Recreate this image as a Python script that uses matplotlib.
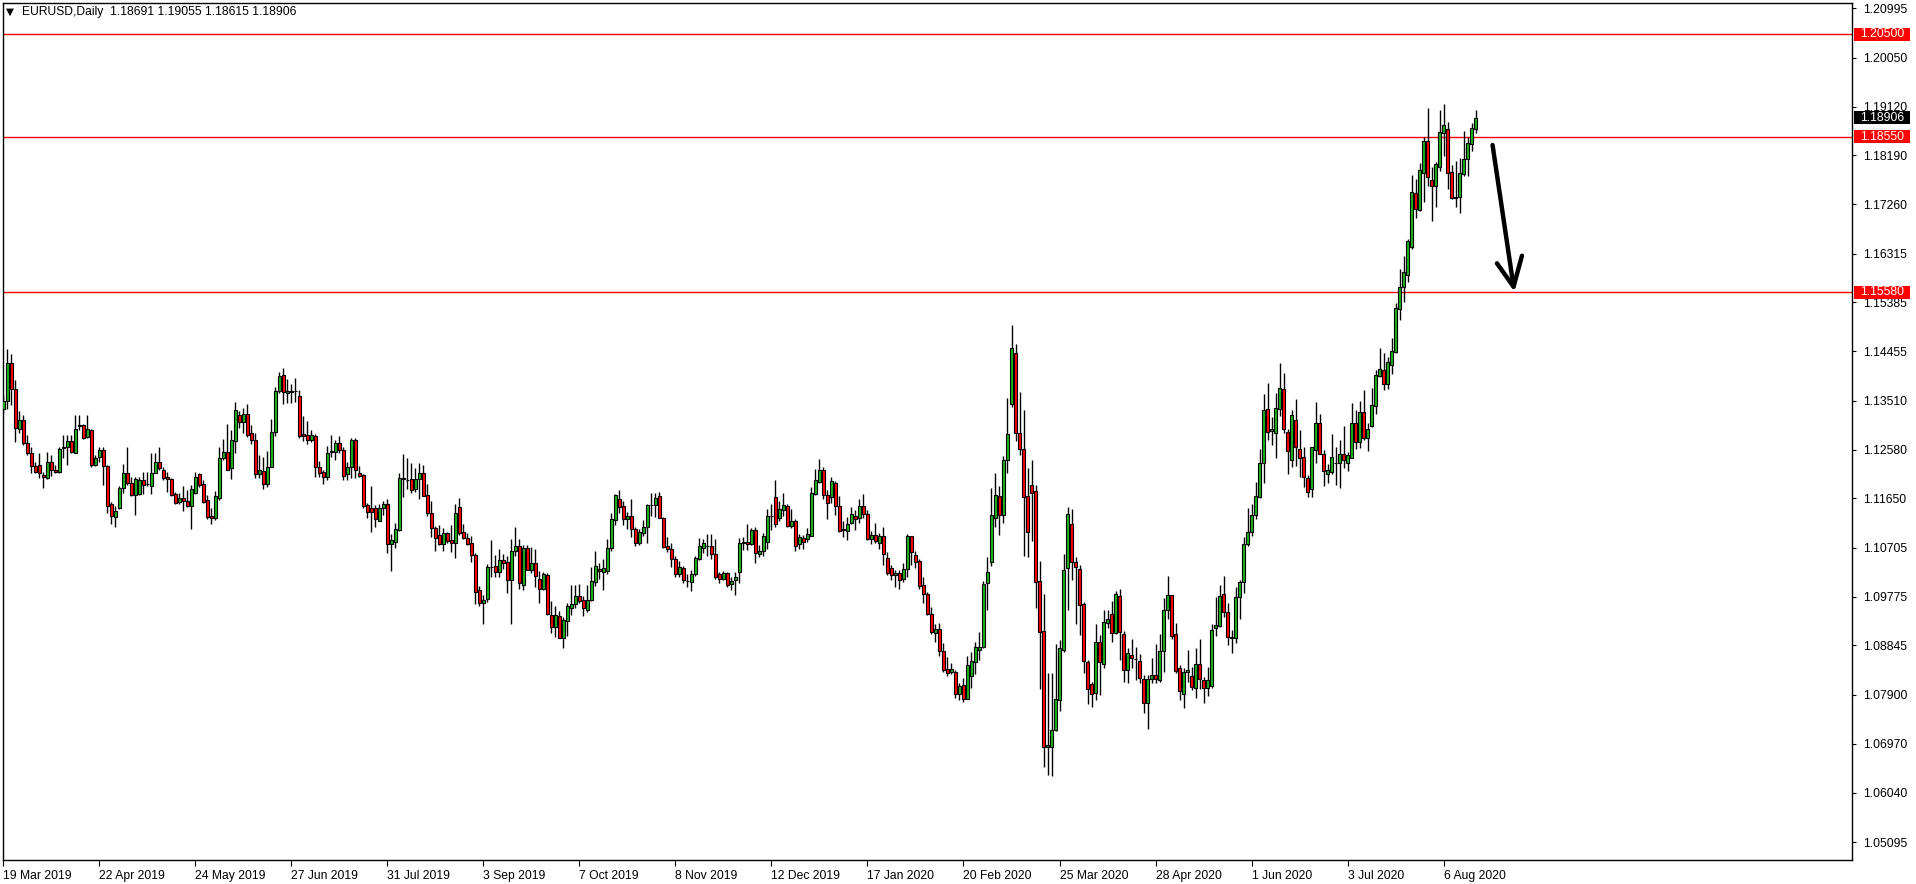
import numpy as np
import matplotlib
matplotlib.use('Agg')
import matplotlib.pyplot as plt
from matplotlib.patches import Rectangle
import matplotlib.transforms as mtransforms

plt.rcParams['font.family'] = ['Liberation Sans', 'DejaVu Sans']

# EURUSD daily candles, 19 Mar 2019 .. 18 Aug 2020
opens = [
 1.1335, 1.1351, 1.1424, 1.1373, 1.1298, 1.1314, 1.1270, 1.1251, 1.1227, 1.1228,
 1.1209, 1.1203, 1.1234, 1.1220, 1.1216, 1.1261, 1.1262, 1.1274, 1.1252, 1.1303,
 1.1304, 1.1282, 1.1295, 1.1228, 1.1244, 1.1257, 1.1227, 1.1154, 1.1130, 1.1146,
 1.1184, 1.1214, 1.1195, 1.1171, 1.1173, 1.1200, 1.1192, 1.1189, 1.1214, 1.1234,
 1.1220, 1.1205, 1.1201, 1.1174, 1.1158, 1.1165, 1.1160, 1.1151, 1.1176, 1.1211,
 1.1192, 1.1161, 1.1131, 1.1127, 1.1166, 1.1241, 1.1253, 1.1222, 1.1275, 1.1324,
 1.1310, 1.1326, 1.1289, 1.1276, 1.1211, 1.1217, 1.1193, 1.1225, 1.1292, 1.1370,
 1.1400, 1.1365, 1.1369, 1.1369, 1.1360, 1.1287, 1.1285, 1.1276, 1.1284, 1.1224,
 1.1215, 1.1206, 1.1253, 1.1253, 1.1270, 1.1258, 1.1211, 1.1224, 1.1277, 1.1214,
 1.1209, 1.1152, 1.1146, 1.1146, 1.1122, 1.1146, 1.1155, 1.1077, 1.1081, 1.1104,
 1.1203, 1.1200, 1.1201, 1.1182, 1.1201, 1.1214, 1.1171, 1.1138, 1.1108, 1.1095,
 1.1077, 1.1098, 1.1085, 1.1079, 1.1148, 1.1100, 1.1090, 1.1079, 1.1057, 1.0990,
 1.0966, 1.0973, 1.1034, 1.1036, 1.1025, 1.1047, 1.1043, 1.1009, 1.1065, 1.1074,
 1.0999, 1.1071, 1.1028, 1.1041, 1.1012, 1.0993, 1.1019, 1.0942, 1.0919, 1.0940,
 1.0898, 1.0932, 1.0955, 1.0963, 1.0979, 1.0971, 1.0952, 1.0971, 1.1005, 1.1031,
 1.1024, 1.1027, 1.1071, 1.1124, 1.1163, 1.1150, 1.1125, 1.1131, 1.1106, 1.1079,
 1.1098, 1.1111, 1.1153, 1.1152, 1.1169, 1.1127, 1.1074, 1.1068, 1.1049, 1.1020,
 1.1033, 1.1007, 1.1006, 1.1021, 1.1050, 1.1071, 1.1075, 1.1074, 1.1059, 1.1020,
 1.1012, 1.1022, 1.1001, 1.1009, 1.1024, 1.1079, 1.1081, 1.1077, 1.1104, 1.1058,
 1.1064, 1.1082, 1.1131, 1.1167, 1.1128, 1.1143, 1.1150, 1.1113, 1.1122, 1.1077,
 1.1090, 1.1087, 1.1094, 1.1174, 1.1197, 1.1219, 1.1171, 1.1167, 1.1195, 1.1150,
 1.1106, 1.1103, 1.1118, 1.1131, 1.1127, 1.1150, 1.1135, 1.1088, 1.1095, 1.1080,
 1.1093, 1.1052, 1.1032, 1.1019, 1.1022, 1.1012, 1.1031, 1.1094, 1.1056, 1.1045,
 1.0999, 1.0982, 1.0944, 1.0909, 1.0915, 1.0874, 1.0839, 1.0833, 1.0833, 1.0791,
 1.0809, 1.0783, 1.0826, 1.0852, 1.0875, 1.0881, 1.1004, 1.1043, 1.1127, 1.1169,
 1.1134, 1.1238, 1.1344, 1.1443, 1.1289, 1.1260, 1.1169, 1.1190, 1.1179, 1.1007,
 1.0912, 1.0691, 1.0690, 1.0723, 1.0781, 1.0876, 1.1033, 1.1117, 1.1044, 1.1031,
 1.0963, 1.0852, 1.0811, 1.0793, 1.0891, 1.0850, 1.0928, 1.0944, 1.0909, 1.0979,
 1.0907, 1.0837, 1.0867, 1.0858, 1.0855, 1.0820, 1.0774, 1.0820, 1.0828, 1.0818,
 1.0874, 1.0952, 1.0980, 1.0906, 1.0841, 1.0791, 1.0833, 1.0826, 1.0804, 1.0849,
 1.0818, 1.0804, 1.0807, 1.0918, 1.0921, 1.0982, 1.0949, 1.0900, 1.0898, 1.0977,
 1.1006, 1.1077, 1.1101, 1.1134, 1.1168, 1.1233, 1.1336, 1.1294, 1.1290, 1.1336,
 1.1373, 1.1292, 1.1238, 1.1315, 1.1260, 1.1243, 1.1204, 1.1182, 1.1258, 1.1309,
 1.1250, 1.1212, 1.1216, 1.1233, 1.1233, 1.1250, 1.1233, 1.1242, 1.1309, 1.1273,
 1.1329, 1.1280, 1.1303, 1.1341, 1.1399, 1.1409, 1.1384, 1.1419, 1.1444, 1.1527,
 1.1568, 1.1590, 1.1644, 1.1747, 1.1714, 1.1785, 1.1846, 1.1772, 1.1761, 1.1796,
 1.1861, 1.1869, 1.1787, 1.1739, 1.1739, 1.1783, 1.1813, 1.1841, 1.18691]

highs = [
 1.1362, 1.1450, 1.1440, 1.1391, 1.1331, 1.1324, 1.1286, 1.1262, 1.1235, 1.1251,
 1.1216, 1.1254, 1.1247, 1.1228, 1.1263, 1.1286, 1.1286, 1.1286, 1.1324, 1.1323,
 1.1306, 1.1324, 1.1298, 1.1247, 1.1262, 1.1262, 1.1228, 1.1158, 1.1150, 1.1188,
 1.1230, 1.1263, 1.1206, 1.1206, 1.1206, 1.1216, 1.1216, 1.1252, 1.1252, 1.1263,
 1.1225, 1.1216, 1.1203, 1.1178, 1.1176, 1.1188, 1.1181, 1.1190, 1.1216, 1.1214,
 1.1200, 1.1172, 1.1146, 1.1179, 1.1262, 1.1279, 1.1307, 1.1296, 1.1349, 1.1331,
 1.1338, 1.1345, 1.1305, 1.1289, 1.1248, 1.1244, 1.1256, 1.1317, 1.1378, 1.1405,
 1.1413, 1.1392, 1.1383, 1.1394, 1.1372, 1.1322, 1.1312, 1.1295, 1.1288, 1.1236,
 1.1219, 1.1265, 1.1286, 1.1276, 1.1284, 1.1262, 1.1235, 1.1281, 1.1281, 1.1227,
 1.1211, 1.1157, 1.1188, 1.1152, 1.1155, 1.1160, 1.1163, 1.1097, 1.1118, 1.1214,
 1.1249, 1.1241, 1.1233, 1.1223, 1.1232, 1.1229, 1.1192, 1.1160, 1.1112, 1.1114,
 1.1108, 1.1101, 1.1114, 1.1154, 1.1165, 1.1116, 1.1098, 1.1093, 1.1060, 1.0998,
 1.0980, 1.1040, 1.1085, 1.1057, 1.1068, 1.1059, 1.1055, 1.1087, 1.1110, 1.1087,
 1.1076, 1.1076, 1.1073, 1.1068, 1.1026, 1.1025, 1.1023, 1.0969, 1.0959, 1.0950,
 1.0939, 1.0966, 1.0999, 1.0999, 1.1001, 1.0979, 1.0999, 1.1035, 1.1065, 1.1042,
 1.1049, 1.1087, 1.1138, 1.1173, 1.1181, 1.1159, 1.1139, 1.1163, 1.1110, 1.1106,
 1.1124, 1.1154, 1.1176, 1.1176, 1.1177, 1.1129, 1.1092, 1.1080, 1.1055, 1.1046,
 1.1036, 1.1021, 1.1028, 1.1055, 1.1090, 1.1087, 1.1097, 1.1097, 1.1087, 1.1025,
 1.1026, 1.1025, 1.1015, 1.1025, 1.1090, 1.1092, 1.1117, 1.1108, 1.1111, 1.1076,
 1.1099, 1.1144, 1.1155, 1.1200, 1.1160, 1.1176, 1.1154, 1.1144, 1.1125, 1.1097,
 1.1095, 1.1109, 1.1187, 1.1221, 1.1240, 1.1224, 1.1181, 1.1206, 1.1199, 1.1169,
 1.1122, 1.1129, 1.1149, 1.1143, 1.1163, 1.1173, 1.1143, 1.1103, 1.1118, 1.1099,
 1.1110, 1.1062, 1.1038, 1.1028, 1.1029, 1.1041, 1.1097, 1.1094, 1.1065, 1.1050,
 1.1015, 1.0987, 1.0958, 1.0926, 1.0928, 1.0889, 1.0863, 1.0851, 1.0837, 1.0813,
 1.0823, 1.0864, 1.0872, 1.0891, 1.0910, 1.1008, 1.1054, 1.1184, 1.1213, 1.1188,
 1.1246, 1.1356, 1.1495, 1.1459, 1.1368, 1.1333, 1.1222, 1.1238, 1.1190, 1.1045,
 1.0982, 1.0831, 1.0831, 1.0888, 1.0895, 1.1059, 1.1149, 1.1144, 1.1054, 1.1038,
 1.0968, 1.0856, 1.0815, 1.0925, 1.0904, 1.0953, 1.0952, 1.0970, 1.0989, 1.0993,
 1.0912, 1.0879, 1.0897, 1.0882, 1.0868, 1.0828, 1.0828, 1.0860, 1.0888, 1.0907,
 1.0974, 1.1017, 1.0980, 1.0928, 1.0847, 1.0841, 1.0876, 1.0844, 1.0880, 1.0897,
 1.0825, 1.0844, 1.0926, 1.0977, 1.0999, 1.1017, 1.0965, 1.0914, 1.0995, 1.1010,
 1.1092, 1.1147, 1.1154, 1.1196, 1.1260, 1.1364, 1.1385, 1.1320, 1.1365, 1.1424,
 1.1404, 1.1298, 1.1333, 1.1354, 1.1295, 1.1263, 1.1210, 1.1263, 1.1349, 1.1325,
 1.1257, 1.1231, 1.1287, 1.1263, 1.1276, 1.1303, 1.1254, 1.1347, 1.1333, 1.1351,
 1.1371, 1.1308, 1.1376, 1.1409, 1.1452, 1.1443, 1.1435, 1.1470, 1.1538, 1.1602,
 1.1627, 1.1660, 1.1782, 1.1774, 1.1805, 1.1855, 1.1909, 1.1796, 1.1806, 1.1906,
 1.1917, 1.1883, 1.1801, 1.1808, 1.1815, 1.1866, 1.1855, 1.1881, 1.19055]

lows = [
 1.1327, 1.1335, 1.1343, 1.1273, 1.1289, 1.1267, 1.1248, 1.1214, 1.1214, 1.1203,
 1.1184, 1.1201, 1.1207, 1.1213, 1.1214, 1.1241, 1.1228, 1.1251, 1.1252, 1.1296,
 1.1278, 1.1281, 1.1225, 1.1227, 1.1235, 1.1190, 1.1137, 1.1117, 1.1111, 1.1144,
 1.1176, 1.1190, 1.1169, 1.1133, 1.1171, 1.1174, 1.1188, 1.1173, 1.1213, 1.1220,
 1.1200, 1.1178, 1.1169, 1.1154, 1.1155, 1.1141, 1.1149, 1.1106, 1.1174, 1.1186,
 1.1157, 1.1125, 1.1117, 1.1124, 1.1162, 1.1239, 1.1219, 1.1201, 1.1251, 1.1300,
 1.1290, 1.1282, 1.1268, 1.1203, 1.1203, 1.1182, 1.1187, 1.1225, 1.1283, 1.1366,
 1.1344, 1.1347, 1.1347, 1.1349, 1.1281, 1.1275, 1.1268, 1.1273, 1.1206, 1.1206,
 1.1193, 1.1200, 1.1244, 1.1239, 1.1252, 1.1200, 1.1200, 1.1203, 1.1203, 1.1206,
 1.1146, 1.1127, 1.1101, 1.1111, 1.1121, 1.1133, 1.1060, 1.1027, 1.1070, 1.1103,
 1.1167, 1.1182, 1.1176, 1.1178, 1.1163, 1.1169, 1.1131, 1.1092, 1.1065, 1.1076,
 1.1065, 1.1080, 1.1063, 1.1052, 1.1095, 1.1087, 1.1076, 1.1043, 1.0963, 1.0959,
 1.0926, 1.0968, 1.1015, 1.1015, 1.1015, 1.1031, 1.0985, 1.0926, 1.1055, 1.0992,
 1.0991, 1.1028, 1.1023, 1.0996, 1.0966, 1.0991, 1.0942, 1.0909, 1.0901, 1.0898,
 1.0879, 1.0903, 1.0942, 1.0956, 1.0965, 1.0941, 1.0949, 1.0970, 1.0998, 1.1012,
 1.0991, 1.1021, 1.1065, 1.1114, 1.1138, 1.1114, 1.1106, 1.1092, 1.1074, 1.1076,
 1.1093, 1.1080, 1.1131, 1.1130, 1.1127, 1.1071, 1.1063, 1.1035, 1.1015, 1.1015,
 1.1004, 1.0995, 1.0989, 1.1017, 1.1048, 1.1061, 1.1055, 1.1050, 1.1012, 1.1003,
 1.1009, 1.0995, 1.0991, 1.0980, 1.1003, 1.1066, 1.1066, 1.1076, 1.1041, 1.1053,
 1.1055, 1.1069, 1.1104, 1.1111, 1.1122, 1.1131, 1.1111, 1.1108, 1.1065, 1.1068,
 1.1069, 1.1082, 1.1093, 1.1172, 1.1195, 1.1163, 1.1125, 1.1157, 1.1134, 1.1101,
 1.1092, 1.1085, 1.1117, 1.1104, 1.1118, 1.1127, 1.1085, 1.1077, 1.1080, 1.1069,
 1.1038, 1.1019, 1.1010, 1.0996, 1.0993, 1.1006, 1.1015, 1.1038, 1.1033, 1.0993,
 1.0965, 1.0942, 1.0907, 1.0891, 1.0865, 1.0834, 1.0826, 1.0830, 1.0785, 1.0781,
 1.0777, 1.0783, 1.0804, 1.0830, 1.0856, 1.0879, 1.0952, 1.1036, 1.1111, 1.1095,
 1.1118, 1.1213, 1.1340, 1.1275, 1.1248, 1.1055, 1.1054, 1.1084, 1.0955, 1.0802,
 1.0653, 1.0638, 1.0636, 1.0722, 1.0760, 1.0872, 1.0953, 1.1010, 1.0926, 1.0904,
 1.0831, 1.0772, 1.0767, 1.0780, 1.0790, 1.0841, 1.0917, 1.0891, 1.0907, 1.0856,
 1.0815, 1.0812, 1.0841, 1.0818, 1.0812, 1.0756, 1.0726, 1.0812, 1.0812, 1.0815,
 1.0833, 1.0934, 1.0896, 1.0831, 1.0781, 1.0766, 1.0815, 1.0800, 1.0785, 1.0802,
 1.0774, 1.0789, 1.0804, 1.0902, 1.0920, 1.0938, 1.0885, 1.0870, 1.0890, 1.0935,
 1.0985, 1.1075, 1.1093, 1.1125, 1.1166, 1.1194, 1.1276, 1.1266, 1.1241, 1.1322,
 1.1289, 1.1212, 1.1225, 1.1226, 1.1206, 1.1186, 1.1168, 1.1168, 1.1233, 1.1249,
 1.1188, 1.1195, 1.1212, 1.1190, 1.1184, 1.1223, 1.1217, 1.1241, 1.1260, 1.1261,
 1.1277, 1.1255, 1.1301, 1.1325, 1.1396, 1.1371, 1.1373, 1.1403, 1.1443, 1.1506,
 1.1540, 1.1578, 1.1640, 1.1699, 1.1713, 1.1731, 1.1761, 1.1694, 1.1721, 1.1790,
 1.1818, 1.1754, 1.1735, 1.1721, 1.1710, 1.1780, 1.1780, 1.1827, 1.18615]

closes = [
 1.1351, 1.1424, 1.1373, 1.1300, 1.1314, 1.1270, 1.1251, 1.1227, 1.1216, 1.1213,
 1.1205, 1.1234, 1.1220, 1.1216, 1.1259, 1.1263, 1.1274, 1.1254, 1.1298, 1.1305,
 1.1281, 1.1298, 1.1228, 1.1242, 1.1257, 1.1227, 1.1151, 1.1132, 1.1141, 1.1184,
 1.1214, 1.1195, 1.1171, 1.1201, 1.1200, 1.1191, 1.1192, 1.1213, 1.1234, 1.1223,
 1.1204, 1.1201, 1.1172, 1.1157, 1.1165, 1.1160, 1.1150, 1.1182, 1.1206, 1.1190,
 1.1158, 1.1130, 1.1128, 1.1169, 1.1242, 1.1253, 1.1220, 1.1276, 1.1333, 1.1310,
 1.1326, 1.1286, 1.1277, 1.1211, 1.1219, 1.1193, 1.1225, 1.1291, 1.1369, 1.1398,
 1.1367, 1.1369, 1.1368, 1.1369, 1.1284, 1.1284, 1.1277, 1.1285, 1.1225, 1.1214,
 1.1206, 1.1251, 1.1255, 1.1270, 1.1258, 1.1208, 1.1225, 1.1277, 1.1220, 1.1208,
 1.1151, 1.1139, 1.1139, 1.1125, 1.1146, 1.1155, 1.1078, 1.1085, 1.1106, 1.1203,
 1.1201, 1.1200, 1.1181, 1.1201, 1.1214, 1.1170, 1.1138, 1.1109, 1.1090, 1.1077,
 1.1099, 1.1084, 1.1079, 1.1138, 1.1099, 1.1090, 1.1077, 1.1057, 1.0987, 1.0966,
 1.0972, 1.1034, 1.1034, 1.1025, 1.1047, 1.1042, 1.1010, 1.1064, 1.1074, 1.1004,
 1.1071, 1.1029, 1.1041, 1.1017, 1.0993, 1.1021, 1.0944, 1.0920, 1.0942, 1.0899,
 1.0933, 1.0959, 1.0964, 1.0978, 1.0970, 1.0955, 1.0971, 1.1007, 1.1036, 1.1026,
 1.1033, 1.1071, 1.1125, 1.1171, 1.1149, 1.1125, 1.1131, 1.1106, 1.1079, 1.1101,
 1.1111, 1.1152, 1.1153, 1.1165, 1.1128, 1.1073, 1.1068, 1.1050, 1.1020, 1.1035,
 1.1009, 1.1007, 1.1021, 1.1052, 1.1074, 1.1079, 1.1075, 1.1059, 1.1015, 1.1012,
 1.1022, 1.0999, 1.1007, 1.1015, 1.1079, 1.1081, 1.1077, 1.1104, 1.1061, 1.1064,
 1.1093, 1.1131, 1.1131, 1.1117, 1.1144, 1.1152, 1.1113, 1.1122, 1.1075, 1.1091,
 1.1082, 1.1097, 1.1176, 1.1200, 1.1219, 1.1172, 1.1157, 1.1198, 1.1151, 1.1103,
 1.1104, 1.1117, 1.1135, 1.1125, 1.1150, 1.1135, 1.1087, 1.1095, 1.1083, 1.1094,
 1.1058, 1.1022, 1.1019, 1.1023, 1.1010, 1.1031, 1.1094, 1.1062, 1.1044, 1.0998,
 1.0982, 1.0944, 1.0910, 1.0915, 1.0873, 1.0837, 1.0831, 1.0840, 1.0791, 1.0807,
 1.0783, 1.0847, 1.0854, 1.0881, 1.0881, 1.1001, 1.1024, 1.1133, 1.1171, 1.1134,
 1.1238, 1.1287, 1.1451, 1.1290, 1.1260, 1.1167, 1.1101, 1.1176, 1.1006, 1.0911,
 1.0691, 1.0695, 1.0724, 1.0783, 1.0879, 1.1028, 1.1135, 1.1044, 1.1035, 1.0961,
 1.0855, 1.0801, 1.0792, 1.0891, 1.0853, 1.0930, 1.0935, 1.0909, 1.0982, 1.0911,
 1.0837, 1.0870, 1.0861, 1.0858, 1.0823, 1.0775, 1.0821, 1.0829, 1.0820, 1.0874,
 1.0952, 1.0980, 1.0903, 1.0836, 1.0797, 1.0833, 1.0837, 1.0806, 1.0849, 1.0820,
 1.0804, 1.0818, 1.0914, 1.0923, 1.0979, 1.0949, 1.0901, 1.0898, 1.0977, 1.1006,
 1.1077, 1.1101, 1.1134, 1.1169, 1.1233, 1.1334, 1.1292, 1.1298, 1.1338, 1.1375,
 1.1297, 1.1256, 1.1324, 1.1263, 1.1242, 1.1205, 1.1177, 1.1262, 1.1309, 1.1250,
 1.1217, 1.1219, 1.1243, 1.1233, 1.1250, 1.1239, 1.1247, 1.1309, 1.1273, 1.1329,
 1.1280, 1.1298, 1.1343, 1.1400, 1.1411, 1.1383, 1.1425, 1.1446, 1.1528, 1.1568,
 1.1597, 1.1656, 1.1750, 1.1716, 1.1791, 1.1846, 1.1777, 1.1761, 1.1803, 1.1863,
 1.1877, 1.1785, 1.1737, 1.1737, 1.1785, 1.1813, 1.1843, 1.1871, 1.18906]

date_labels = ['19 Mar 2019', '22 Apr 2019', '24 May 2019', '27 Jun 2019', '31 Jul 2019',
               '3 Sep 2019', '7 Oct 2019', '8 Nov 2019', '12 Dec 2019', '17 Jan 2020',
               '20 Feb 2020', '25 Mar 2020', '28 Apr 2020', '1 Jun 2020', '3 Jul 2020',
               '6 Aug 2020']
price_ticks = [1.20995, 1.20050, 1.19120, 1.18190, 1.17260, 1.16315, 1.15385, 1.14455,
               1.13510, 1.12580, 1.11650, 1.10705, 1.09775, 1.08845, 1.07900, 1.06970,
               1.06040, 1.05095]
levels = [1.20500, 1.18550, 1.15580]
last_price = 1.18906

o = np.array(opens); h = np.array(highs); l = np.array(lows); c = np.array(closes)
n = len(c)
x = np.arange(n)

W, H = 1916, 884
fig = plt.figure(figsize=(W / 100, H / 100), dpi=100)
fig.patch.set_facecolor('white')
ax = fig.add_axes([2.5 / W, 1 - 860 / H, (1852 - 2.5) / W, (860 - 2.5) / H])

ax.set_xlim(-0.22, 462.1)
ax.set_ylim(1.04753, 1.21106)

# candles
ax.vlines(x, l, h, color='black', lw=1.0, zorder=2)
up = c >= o
cols = np.where(up, '#1eb41e', '#ff0000')
ax.bar(x, c - o, bottom=o, width=0.72, color=cols, edgecolor='black', linewidth=0.8, zorder=3)

# support / resistance lines
for lv in levels:
    ax.axhline(lv, color='#ff0000', lw=1.0, zorder=1)

# hand drawn arrow
ax.plot([372.25, 377.5], [1.18388, 1.15686], color='black', lw=3.2,
        solid_capstyle='round', zorder=6, clip_on=False)
ax.plot([373.35, 377.5, 379.6], [1.16132, 1.15686, 1.16277], color='black', lw=3.2,
        solid_capstyle='round', solid_joinstyle='round', zorder=6, clip_on=False)

# axes look
for s in ax.spines.values():
    s.set_color('black')
    s.set_linewidth(1.0)
ax.yaxis.tick_right()
ax.set_yticks(price_ticks)
ax.set_yticklabels(['%.5f' % v for v in price_ticks])
ax.tick_params(axis='y', direction='out', length=3, width=0.8, pad=5, labelsize=8.7)
ax.set_xticks(np.arange(0, 24 * len(date_labels), 24))
ax.set_xticklabels(date_labels)
ax.tick_params(axis='x', direction='out', length=4, width=0.8, pad=3, labelsize=8.7)
for t in ax.get_xticklabels():
    t.set_ha('left')

# price tags on the right scale
ident = mtransforms.IdentityTransform()
fig.canvas.draw()

def tag(price, fc):
    _, yd = ax.transData.transform((0, price))
    fig.patches.append(Rectangle((1854, yd - 6.5), 56, 13, transform=ident,
                                 facecolor=fc, edgecolor='none', zorder=5))
    fig.text(1882 / W, yd / H, '%.5f' % price, color='white', ha='center',
             va='center', fontsize=8.7, zorder=6)

for lv in levels:
    tag(lv, '#ff0000')
tag(last_price, 'black')

# header
fig.text(6 / W, 1 - 12 / H, '\u25bc', fontsize=7.5, family='DejaVu Sans',
         ha='left', va='center')
fig.text(22 / W, 1 - 12.5 / H, 'EURUSD,Daily  %.5f %.5f %.5f %.5f' % (o[-1], h[-1], l[-1], c[-1]),
         fontsize=8.7, ha='left', va='center')

fig.savefig('out.png', dpi=100)
